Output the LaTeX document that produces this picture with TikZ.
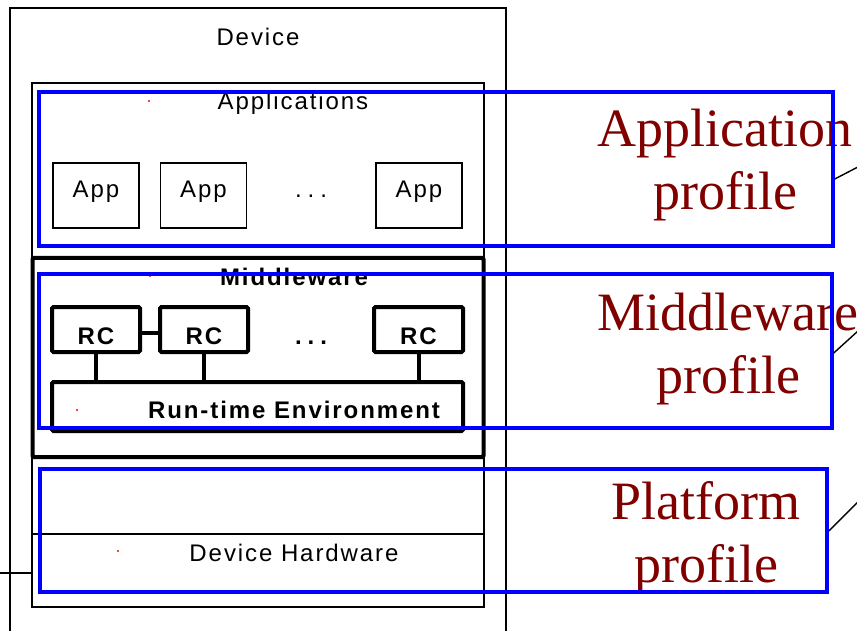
\documentclass[tikz,border=0pt]{standalone}
\usepackage{fontspec}
\setmainfont{Liberation Sans}
\newfontfamily\labelfont[LetterSpace=8]{Liberation Sans}
\newfontfamily\profilefont{Liberation Serif}
\usetikzlibrary{calc}
\definecolor{profred}{RGB}{128,0,0}
\definecolor{profblue}{RGB}{0,0,255}
\begin{document}
\begin{tikzpicture}[x=1pt,y=-1pt,
  thinline/.style={draw=black,line width=1.6pt},
  thinbox/.style={draw=black,line width=1.6pt,inner sep=0,rectangle},
  heavybox/.style={draw=black,line width=4pt,rounded corners=1.5pt,inner sep=0,rectangle},
  heavyline/.style={draw=black,line width=4pt},
  profilebox/.style={draw=profblue,line width=3.5pt,inner sep=0,rectangle},
  lbl/.style={font=\fontsize{24}{28}\selectfont\labelfont,inner sep=0,anchor=base},
  boldlbl/.style={lbl,font=\fontsize{24}{28}\selectfont\labelfont\bfseries},
  proftext/.style={font=\fontsize{54}{63}\selectfont\profilefont,text=profred,align=center,inner sep=0,anchor=base},
  speck/.style={fill=red,draw=none}]
\useasboundingbox (0,0) rectangle (857,631);
\clip (0,0) rectangle (857,631);

% device frame and layer frames
\draw[thinline] (10,640) -- (10,8) -- (506,8) -- (506,640);
\node[lbl] (device) at (258,46) {Device};

\node[thinbox,minimum width=452,minimum height=175] (appsbox) at (258,170.5) {};
\node[lbl] (appstitle) at (293,110) {Applications};
\node[thinbox,minimum width=86,minimum height=65] (app1) at (96,195.5) {};
\node[thinbox,minimum width=86,minimum height=65] (app2) at (203.5,195.5) {};
\node[thinbox,minimum width=86,minimum height=65] (app3) at (419,195.5) {};
\node[lbl] (app1t) at (96,198) {App};
\node[lbl] (app2t) at (203.5,198) {App};
\node[lbl] (app3t) at (419,198) {App};
\node[lbl] (appdots) at (311,198) {.\hspace{6pt}.\hspace{6pt}.};

% middleware layer
\node[heavybox,minimum width=451,minimum height=199] (mwbox) at (258,357.5) {};
\node[boldlbl] (mwtitle) at (294,285) {Middleware};
\node[heavybox,minimum width=88,minimum height=45] (rc1) at (96,329.5) {};
\node[heavybox,minimum width=88,minimum height=45] (rc2) at (204,329.5) {};
\node[heavybox,minimum width=89,minimum height=45] (rc3) at (418.5,329.5) {};
\node[boldlbl] (rc1t) at (96,344) {RC};
\node[boldlbl] (rc2t) at (204,344) {RC};
\node[boldlbl] (rc3t) at (418.5,344) {RC};
\node[boldlbl] (rcdots) at (311,344) {.\hspace{6pt}.\hspace{6pt}.};
\node[heavybox,minimum width=411,minimum height=49] (rte) at (257.5,406.5) {};
\node[boldlbl] (rtet) at (294,418) {Run-time Environment};
\draw[heavyline] ($(rc1.east)+(0,3)$) -- ($(rc2.west)+(0,3)$);
\draw[heavyline] (rc1.south) -- (rc1.south |- rte.north);
\draw[heavyline] (rc2.south) -- (rc2.south |- rte.north);
\draw[heavyline] (rc3.south) -- (rc3.south |- rte.north);

% hardware layer
\node[thinbox,minimum width=452,minimum height=149] (hwbox) at (258,532.5) {};
\draw[thinline] (hwbox.west |- 0,534) -- (hwbox.east |- 0,534);
\node[lbl] (hwt) at (294,561) {Device Hardware};
\coordinate (leftend) at (0,573);
\draw[thinline] (leftend) -- (hwbox.west |- leftend);

% small red specks
\fill[speck] (149,101) circle (1.1);
\fill[speck] (150,276) circle (1.1);
\fill[speck] (77,410) circle (1.1);
\fill[speck] (118,551) circle (1.1);

% profile captions (anchored at the baseline of their last line)
\node[proftext] (appprof) at (725,210) {Application\\profile};
\node[proftext] (mwprof) at (728,393) {Middleware\\profile};
\node[proftext] (platprof) at (706,582) {Platform\\profile};

% profile frames
\node[profilebox,minimum width=794,minimum height=154] (appframe) at (436,169) {};
\node[profilebox,minimum width=793,minimum height=154] (mwframe) at (435.5,351) {};
\node[profilebox,minimum width=787,minimum height=123] (platframe) at (433.5,530.5) {};

% leader lines leaving the frames
\coordinate (append) at (881,155);
\coordinate (mwend) at (880,311);
\coordinate (platend) at (885,475);
\draw[black,line width=1.4pt] ($(appframe.east)+(0,10)$) -- (append);
\draw[black,line width=1.4pt] ($(mwframe.east)+(0,2)$) -- (mwend);
\draw[black,line width=1.4pt] ($(platframe.east)+(0,0.5)$) -- (platend);
\end{tikzpicture}
\end{document}
